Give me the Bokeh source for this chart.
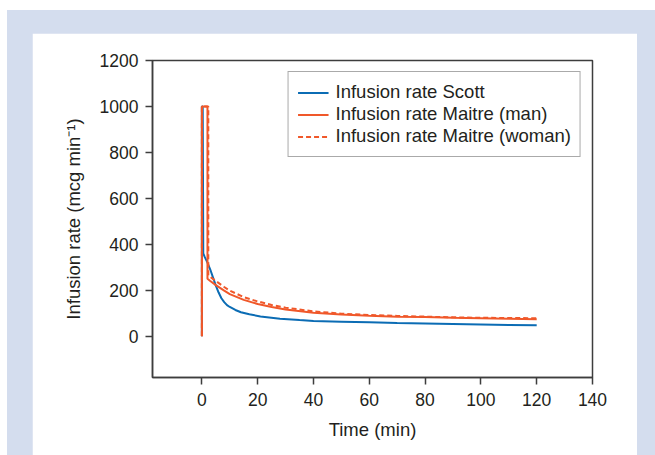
from bokeh.plotting import figure
from bokeh.layouts import column
from bokeh.models import Range1d, Legend, LegendItem, FixedTicker
from bokeh.embed import file_html
from bokeh.resources import INLINE

# ---- data ----
scott_t = [0, 0, 0.3, 0.5, 1, 2, 3, 4, 5, 6, 7, 8, 9, 10, 12, 14, 17, 21, 28, 35, 40, 50, 60, 70, 85, 100, 110, 120]
scott_v = [0, 1000, 1000, 360, 345, 320, 290, 255, 220, 190, 165, 148, 135, 127, 114, 104, 95, 86, 76, 70, 66, 63, 60, 57, 54, 51, 49, 47]

man_t = [0, 0, 2.0, 2.0, 3, 5, 8, 10, 15, 20, 25, 30, 40, 50, 60, 70, 80, 90, 100, 110, 120]
man_v = [0, 1000, 1000, 250, 240, 222, 198, 183, 158, 140, 127, 116, 102, 94, 89, 85, 83, 80, 78, 76, 74]

woman_t = [0, 0, 2.3, 2.3, 3, 5, 8, 10, 15, 20, 25, 30, 40, 50, 60, 70, 80, 90, 100, 110, 120]
woman_v = [0, 1000, 1000, 265, 258, 240, 214, 198, 170, 151, 136, 124, 108, 98, 92, 88, 85, 82, 80, 79, 78]

x_ticks = [0, 20, 40, 60, 80, 100, 120, 140]
y_ticks = [0, 200, 400, 600, 800, 1000, 1200]

series_labels = ["Infusion rate Scott", "Infusion rate Maitre (man)", "Infusion rate Maitre (woman)"]

BLUE = "#0b6cb4"
ORANGE = "#f0582a"
FRAME = "#d4ddee"
INK = "#231f20"
AXIS = "#3d3d3d"
FONT = "Liberation Sans"

# white panel: page x 32..637, y 33..; plot frame: page x 152..592, y 60..377
W, H = 605, 422
p = figure(width=W, height=H, output_backend="svg", toolbar_location=None,
           x_range=Range1d(-17.7, 140), y_range=Range1d(-180, 1200),
           min_border_left=120, min_border_right=45, min_border_top=27, min_border_bottom=H - 344)
p.border_fill_color = "white"
p.background_fill_color = "white"
p.outline_line_color = AXIS
p.outline_line_width = 1.5
p.grid.visible = False

r1 = p.line(scott_t, scott_v, line_color=BLUE, line_width=2)
r2 = p.line(man_t, man_v, line_color=ORANGE, line_width=2)
r3 = p.line(woman_t, woman_v, line_color=ORANGE, line_width=2, line_dash="5 3")

for ax in (p.xaxis[0], p.yaxis[0]):
    ax.axis_line_color = AXIS
    ax.axis_line_width = 1.5
    ax.major_tick_line_color = AXIS
    ax.major_tick_line_width = 1.5
    ax.major_tick_out = 7
    ax.major_tick_in = 0
    ax.minor_tick_line_color = None
    ax.major_label_text_font = FONT
    ax.major_label_text_font_size = "17.5px"
    ax.major_label_text_color = INK
    ax.axis_label_text_font = FONT
    ax.axis_label_text_font_size = "18.5px"
    ax.axis_label_text_font_style = "normal"
    ax.axis_label_text_color = INK

p.xaxis.ticker = FixedTicker(ticks=x_ticks)
p.yaxis.ticker = FixedTicker(ticks=y_ticks)
p.xaxis.axis_label = "Time (min)"
p.yaxis.axis_label = "Infusion rate (mcg min\u207b\u00b9)"
p.xaxis.major_label_standoff = 8
p.xaxis.axis_label_standoff = 10
p.yaxis.major_label_standoff = 7
p.yaxis.axis_label_standoff = 13

legend = Legend(items=[LegendItem(label=series_labels[0], renderers=[r1]),
                       LegendItem(label=series_labels[1], renderers=[r2]),
                       LegendItem(label=series_labels[2], renderers=[r3])],
                location="top_right", margin=11, padding=9, spacing=0,
                glyph_width=31, glyph_height=19, label_height=19, label_standoff=7,
                label_text_font=FONT, label_text_font_size="18.5px", label_text_color=INK,
                border_line_color="#555555", border_line_width=1,
                background_fill_color="white", background_fill_alpha=1)
p.add_layout(legend)

# light-blue frame around the white panel
layout = column(p, margin=(10, 0, 0, 7),
                styles={"background-color": FRAME, "padding": "23px 18px 0px 25px"})

open("out.html", "w").write(file_html(layout, INLINE))
